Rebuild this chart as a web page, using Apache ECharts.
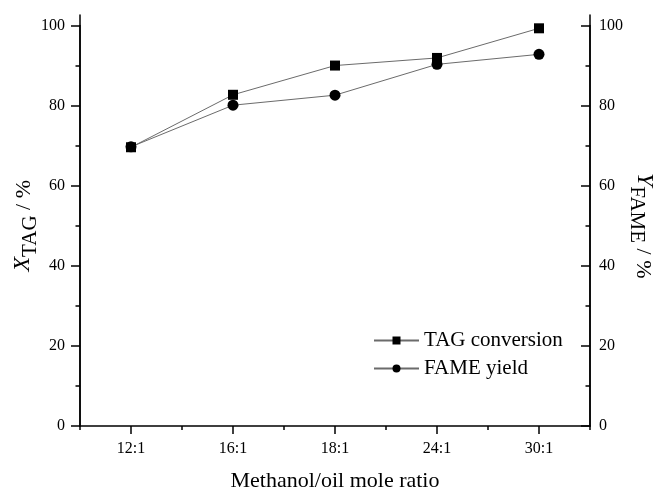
<!DOCTYPE html>
<html>
<head>
<meta charset="utf-8">
<script src="https://cdn.jsdelivr.net/npm/echarts@6/dist/echarts.min.js"></script>
<style>
  html, body { margin: 0; padding: 0; background: #fff; }
  #chart { width: 667px; height: 490px; }
</style>
</head>
<body>
<div id="chart"></div>
<script>
// Methanol/oil mole ratio categories
const ratios = ['12:1', '16:1', '18:1', '24:1', '30:1'];
// TAG conversion, %
const tagConversion = [69.6, 82.7, 90.0, 91.9, 99.3];
// FAME yield, %
const fameYield = [69.7, 80.1, 82.6, 90.3, 92.8];

const FONT = '"Liberation Serif", "Times New Roman", serif';
const AXIS_COLOR = '#000';
const LINE_COLOR = '#6b6b6b';

const gridMain = { left: 80, right: 77, top: 25.5, bottom: 64, outerBoundsMode: 'none', containLabel: false };
// second grid only carries the axis lines that run a little past 100
const gridFrame = { left: 80, right: 77, top: 15, bottom: 64, outerBoundsMode: 'none', containLabel: false };

const axisLine = { show: true, lineStyle: { color: AXIS_COLOR, width: 1.5 } };

const titleRich = {
  i: { fontFamily: FONT, fontSize: 24, fontStyle: 'italic', color: '#000', padding: [0, 0, 6, 0], verticalAlign: 'bottom' },
  sub: { fontFamily: FONT, fontSize: 21, color: '#000', verticalAlign: 'bottom' },
  n: { fontFamily: FONT, fontSize: 22, color: '#000', padding: [0, 0, 6, 0], verticalAlign: 'bottom' }
};

const chart = echarts.init(document.getElementById('chart'), null, { renderer: 'canvas' });

chart.setOption({
  animation: false,
  backgroundColor: '#fff',
  textStyle: { fontFamily: FONT, color: '#000' },
  grid: [gridMain, gridFrame],
  legend: {
    orient: 'vertical',
    left: 368,
    top: 325,
    itemWidth: 45,
    itemHeight: 10,
    itemGap: 7,
    textStyle: { fontFamily: FONT, fontSize: 21, color: '#000' },
    data: ['TAG conversion', 'FAME yield']
  },
  xAxis: [
    {
      type: 'category',
      gridIndex: 0,
      data: ratios,
      boundaryGap: true,
      axisLine: axisLine,
      axisTick: { show: true, alignWithLabel: true, length: 8, lineStyle: { color: AXIS_COLOR, width: 1.5 } },
      axisLabel: { fontFamily: FONT, fontSize: 16, color: '#000', margin: 15 },
      splitLine: { show: false },
      name: 'Methanol/oil mole ratio',
      nameLocation: 'middle',
      nameGap: 44,
      nameMoveOverlap: false,
      nameTextStyle: { fontFamily: FONT, fontSize: 22, color: '#000' }
    },
    {
      // short ticks at the category boundaries
      type: 'category',
      gridIndex: 0,
      data: ratios,
      boundaryGap: true,
      position: 'bottom',
      axisLine: { show: false },
      axisTick: { show: true, length: 4, lineStyle: { color: AXIS_COLOR, width: 1.5 } },
      axisLabel: { show: false },
      splitLine: { show: false }
    },
    {
      type: 'value',
      gridIndex: 1,
      show: false
    }
  ],
  yAxis: [
    {
      type: 'value',
      gridIndex: 0,
      position: 'left',
      min: 0,
      max: 100,
      interval: 20,
      axisLine: axisLine,
      axisTick: { show: true, inside: false, length: 9, lineStyle: { color: AXIS_COLOR, width: 1.5 } },
      minorTick: { show: true, splitNumber: 2, length: 4.5, lineStyle: { color: AXIS_COLOR, width: 1.5 } },
      axisLabel: { fontFamily: FONT, fontSize: 16, color: '#000', margin: 15 },
      splitLine: { show: false },
      name: '{i|X}{sub|TAG}{n| / %}',
      nameLocation: 'middle',
      nameRotate: 90,
      nameGap: 39,
      nameMoveOverlap: false,
      nameTextStyle: { fontFamily: FONT, color: '#000', rich: titleRich }
    },
    {
      type: 'value',
      gridIndex: 0,
      position: 'right',
      min: 0,
      max: 100,
      interval: 20,
      axisLine: axisLine,
      axisTick: { show: true, inside: true, length: 9, lineStyle: { color: AXIS_COLOR, width: 1.5 } },
      minorTick: { show: true, splitNumber: 2, length: 4.5, lineStyle: { color: AXIS_COLOR, width: 1.5 } },
      axisLabel: { fontFamily: FONT, fontSize: 16, color: '#000', margin: 9, inside: false },
      splitLine: { show: false },
      name: '{i|Y}{sub|FAME}{n| / %}',
      nameLocation: 'middle',
      nameRotate: -90,
      nameGap: 36,
      nameMoveOverlap: false,
      nameTextStyle: { fontFamily: FONT, color: '#000', rich: titleRich }
    },
    {
      type: 'value', gridIndex: 1, position: 'left', min: 0, max: 102.5,
      axisLine: axisLine, axisTick: { show: false }, axisLabel: { show: false }, splitLine: { show: false }
    },
    {
      type: 'value', gridIndex: 1, position: 'right', min: 0, max: 102.5,
      axisLine: axisLine, axisTick: { show: false }, axisLabel: { show: false }, splitLine: { show: false }
    }
  ],
  series: [
    {
      name: 'TAG conversion',
      type: 'line',
      xAxisIndex: 0,
      yAxisIndex: 0,
      data: tagConversion,
      symbol: 'rect',
      symbolSize: 10,
      itemStyle: { color: '#000' },
      lineStyle: { color: LINE_COLOR, width: 1 }
    },
    {
      name: 'FAME yield',
      type: 'line',
      xAxisIndex: 0,
      yAxisIndex: 1,
      data: fameYield,
      symbol: 'circle',
      symbolSize: 11,
      itemStyle: { color: '#000' },
      lineStyle: { color: LINE_COLOR, width: 1 }
    }
  ]
});
</script>
</body>
</html>
